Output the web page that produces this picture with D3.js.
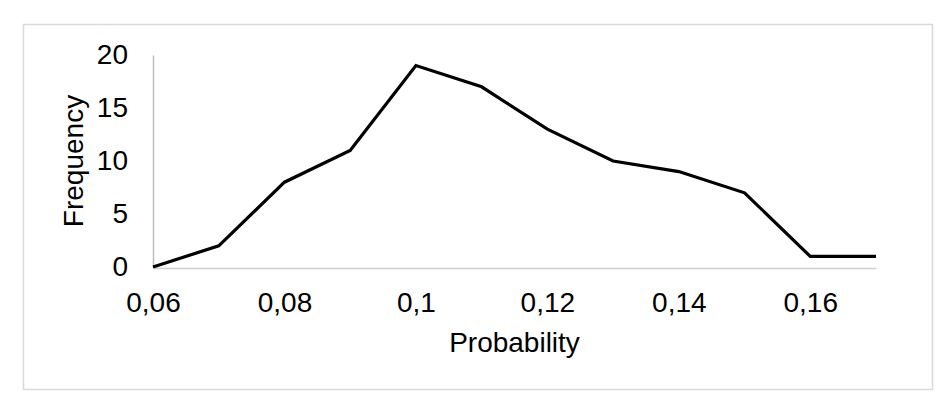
<!DOCTYPE html>
<html>
<head>
<meta charset="utf-8">
<script src="https://cdn.jsdelivr.net/npm/d3@7"></script>
<style>
  body { margin: 0; background: #fff; }
  text { font-family: "Liberation Sans", Arial, Helvetica, sans-serif; fill: #000; }
</style>
</head>
<body>
<svg id="chart" width="949" height="410"></svg>
<script>
// values
const probability = [0.06, 0.07, 0.08, 0.09, 0.10, 0.11, 0.12, 0.13, 0.14, 0.15, 0.16, 0.17];
const frequency   = [0, 2, 8, 11, 19, 17, 13, 10, 9, 7, 1, 1];
const xTicks = [0.06, 0.08, 0.10, 0.12, 0.14, 0.16];
const yTicks = [0, 5, 10, 15, 20];

const width = 949, height = 410;
const plot = {left: 153, right: 876, top: 55, bottom: 267};
const fontSize = 28;

const svg = d3.select("#chart");

// outer chart frame
svg.append("rect")
  .attr("x", 23.5).attr("y", 24.5)
  .attr("width", 909).attr("height", 365)
  .attr("fill", "#fff")
  .attr("stroke", "#d9d9d9")
  .attr("stroke-width", 1.5);

const x = d3.scaleLinear().domain([0.06, 0.17]).range([plot.left, plot.right]);
const y = d3.scaleLinear().domain([0, 20]).range([plot.bottom, plot.top]);

const comma = d => String(+d.toFixed(2)).replace(".", ",");

// x axis: grey baseline, no ticks
const xAxis = svg.append("g")
  .attr("transform", `translate(0,${plot.bottom + 1})`)
  .call(d3.axisBottom(x).tickValues(xTicks).tickFormat(comma).tickSize(0).tickPadding(24));
xAxis.select(".domain").attr("stroke", "#cfcfcf").attr("stroke-width", 1.5);
xAxis.selectAll("text").attr("font-size", fontSize).style("font-family", null);

// y axis
const yAxis = svg.append("g")
  .attr("transform", `translate(${plot.left},0)`)
  .call(d3.axisLeft(y).tickValues(yTicks).tickSize(0).tickPadding(25));
yAxis.select(".domain").attr("stroke", "#bfbfbf").attr("stroke-width", 1.5);
yAxis.selectAll("text").attr("font-size", fontSize).style("font-family", null);

// the series line
const line = d3.line()
  .x((d, i) => x(probability[i]))
  .y(d => y(d));

svg.append("path")
  .datum(frequency)
  .attr("d", line)
  .attr("fill", "none")
  .attr("stroke", "#000")
  .attr("stroke-width", 3.2)
  .attr("stroke-linejoin", "miter");

// axis titles
svg.append("text")
  .attr("x", (plot.left + plot.right) / 2)
  .attr("y", 352)
  .attr("text-anchor", "middle")
  .attr("font-size", fontSize)
  .text("Probability");

svg.append("text")
  .attr("transform", `translate(83,${(plot.top + plot.bottom) / 2}) rotate(-90)`)
  .attr("text-anchor", "middle")
  .attr("font-size", fontSize)
  .text("Frequency");
</script>
</body>
</html>
